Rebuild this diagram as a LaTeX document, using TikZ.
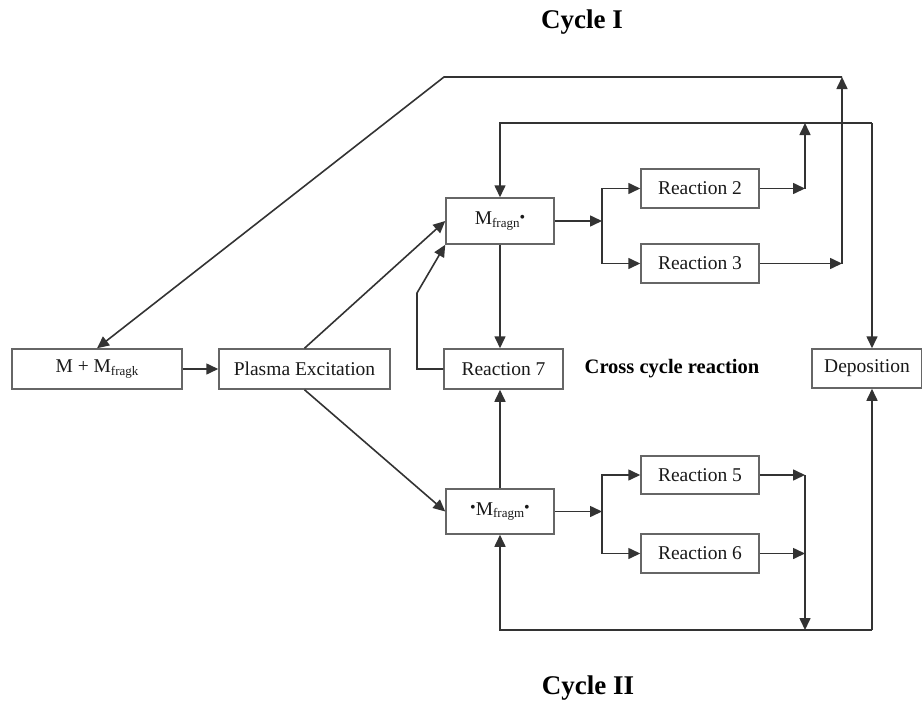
\documentclass[tikz,border=0pt]{standalone}
\usepackage{fontspec}
\setmainfont{Liberation Serif}
\usetikzlibrary{arrows.meta}
\newcommand{\subtxt}[1]{\raisebox{-0.25ex}{\fontsize{13}{14}\selectfont #1}}
\newcommand{\rad}{\raisebox{0.3ex}{\fontsize{16}{14}\selectfont •}}
\begin{document}
\begin{tikzpicture}[x=1pt,y=-1pt,
  every node/.style={font=\fontsize{19.5}{22}\selectfont, text=black!90},
  box/.style={draw=black!60, line width=1.5pt, inner sep=0pt, minimum height=40pt},
  link/.style={draw=black!80, line width=1.6pt},
  arr/.style={link, -{Triangle[length=12pt,width=11pt]}},
  title/.style={font=\fontsize{27}{30}\selectfont\bfseries, text=black}]
\useasboundingbox (0,0) rectangle (922,707);

% titles
\node[title] (c1) at (582,22) {Cycle I};
\node[title] (c2) at (588,688) {Cycle II};
\node[font=\fontsize{20.5}{23}\selectfont\bfseries, text=black] (cross) at (672,369) {Cross cycle reaction};

% boxes
\node[box, minimum width=170pt] (start) at (97,369) {M + M\subtxt{fragk}};
\node[box, minimum width=171pt] (plasma) at (304.5,369) {Plasma Excitation};
\node[box, minimum width=108pt, minimum height=46pt] (mn) at (500,221) {M\subtxt{fragn}\rad};
\node[box, minimum width=118pt, minimum height=39pt] (r2) at (700,188.5) {Reaction 2};
\node[box, minimum width=118pt, minimum height=39pt] (r3) at (700,263.5) {Reaction 3};
\node[box, minimum width=119pt] (r7) at (503.5,369) {Reaction 7};
\node[box, minimum width=110pt, minimum height=39pt] (dep) at (867,368.5) {Deposition};
\node[box, minimum width=108pt, minimum height=45pt] (mm) at (500,511.5) {\rad M\subtxt{fragm}\rad};
\node[box, minimum width=118pt, minimum height=38pt] (r5) at (700,475) {Reaction 5};
\node[box, minimum width=118pt, minimum height=39pt] (r6) at (700,553.5) {Reaction 6};

% junction points
\coordinate (splitN) at (602,221);
\coordinate (splitM) at (602,511.5);
\coordinate (j2) at (805,188.5);
\coordinate (j2top) at (805,123);
\coordinate (j3) at (842,263.5);
\coordinate (j3top) at (842,77);
\coordinate (topL) at (444,77);
\coordinate (rail) at (872,123);
\coordinate (railB) at (872,630);
\coordinate (j5) at (805,475);
\coordinate (j6) at (805,553.5);
\coordinate (loopA) at (417,369);
\coordinate (loopB) at (417,293);

% main feed
\draw[arr] (start) -- (plasma);
\draw[arr] (plasma.north) -- (mn.west);
\draw[arr] (plasma.south) -- (mm.west);

% cycle I
\draw[arr] (mn.east) -- (splitN);
\draw[arr] (splitN) |- (r2.west);
\draw[arr] (splitN) |- (r3.west);
\draw[arr] (r2.east) -- (j2);
\draw[arr] (j2) -- (j2top);
\draw[arr] (r3.east) -- (j3);
\draw[arr] (j3) -- (j3top);
\draw[arr] (j3top) -- (topL) -- (start.north);
\draw[arr] (rail) -- (mn.north |- rail) -- (mn.north);
\draw[arr] (rail) -- (rail |- dep.north);

% cross cycle
\draw[arr] (mn.south) -- (mn.south |- r7.north);
\draw[arr] (mm.north) -- (mm.north |- r7.south);
\draw[arr] (r7.west) -- (loopA) -- (loopB) -- (mn.south west);

% cycle II
\draw[arr] (mm.east) -- (splitM);
\draw[arr] (splitM) |- (r5.west);
\draw[arr] (splitM) |- (r6.west);
\draw[arr] (r5.east) -- (j5);
\draw[arr] (r6.east) -- (j6);
\draw[arr] (j5) -- (j5 |- railB);
\draw[arr] (railB) -- (mm.south |- railB) -- (mm.south);
\draw[arr] (railB) -- (rail |- dep.south);
\end{tikzpicture}
\end{document}
